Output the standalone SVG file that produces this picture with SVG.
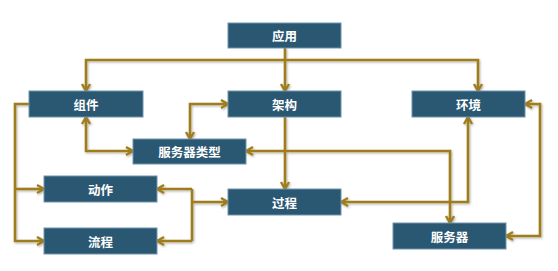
<svg xmlns="http://www.w3.org/2000/svg" width="558" height="271" viewBox="0 0 558 271">
<style>
.n rect{fill:#2A5772;stroke:#6E93AD;stroke-width:1}
.n text{fill:#fff;font-family:"Noto Sans CJK SC","Noto Sans",sans-serif;font-size:12.5px;font-weight:bold;text-anchor:middle;dominant-baseline:central}
.c path{fill:none;stroke:#A07D1C;stroke-width:2.6}
.a{marker-end:url(#ar)}
.b{marker-start:url(#ar);marker-end:url(#ar)}
</style>
<defs>
<marker id="ar" markerUnits="userSpaceOnUse" markerWidth="12" markerHeight="12" refX="9" refY="5" viewBox="0 0 12 10" orient="auto-start-reverse">
<path d="M2,1 L9,5 L2,9" fill="none" stroke="#A07D1C" stroke-width="2.4" stroke-linejoin="miter"/>
</marker>
<filter id="sh" x="-10%" y="-10%" width="120%" height="120%">
<feDropShadow dx="1" dy="1.2" stdDeviation="0.8" flood-color="#000" flood-opacity="0.3"/>
</filter>
</defs>
<g id="connectors" class="c" filter="url(#sh)">
<path class="a" d="M285,48 V91"/>
<path class="a" d="M285,60 H86 V91"/>
<path class="a" d="M285,60 H478 V91"/>
<path class="b" d="M86,117 V151 H133"/>
<path class="b" d="M228,104 H190 V139"/>
<path class="a" d="M285,117 V189"/>
<path class="b" d="M246,151 H450 V223"/>
<path class="b" d="M468,117 V202 H341"/>
<path class="b" d="M525,104 H540 V236 H506"/>
<path class="a" d="M29,104 H15 V241 H44"/>
<path class="a" d="M15,189 H44"/>
<path d="M192,189 V241"/>
<path class="a" d="M192,189 H157"/>
<path class="a" d="M192,241 H157"/>
<path class="a" d="M192,202 H228"/>
</g>
<g id="app" class="n"><rect x="228" y="23" width="113" height="25"/><text x="284.5" y="35.5">应用</text></g>
<g id="component" class="n"><rect x="29" y="91" width="114" height="26"/><text x="86" y="104">组件</text></g>
<g id="architecture" class="n"><rect x="228" y="91" width="113" height="26"/><text x="284.5" y="104">架构</text></g>
<g id="environment" class="n"><rect x="412" y="91" width="113" height="26"/><text x="468.5" y="104">环境</text></g>
<g id="servertype" class="n"><rect x="133" y="139" width="113" height="25"/><text x="189.5" y="151.5">服务器类型</text></g>
<g id="action" class="n"><rect x="44" y="176" width="113" height="26"/><text x="100.5" y="189">动作</text></g>
<g id="process" class="n"><rect x="228" y="189" width="113" height="26"/><text x="284.5" y="202">过程</text></g>
<g id="flow" class="n"><rect x="44" y="228" width="113" height="26"/><text x="100.5" y="241">流程</text></g>
<g id="server" class="n"><rect x="393" y="223" width="113" height="26"/><text x="449.5" y="236">服务器</text></g>
</svg>
